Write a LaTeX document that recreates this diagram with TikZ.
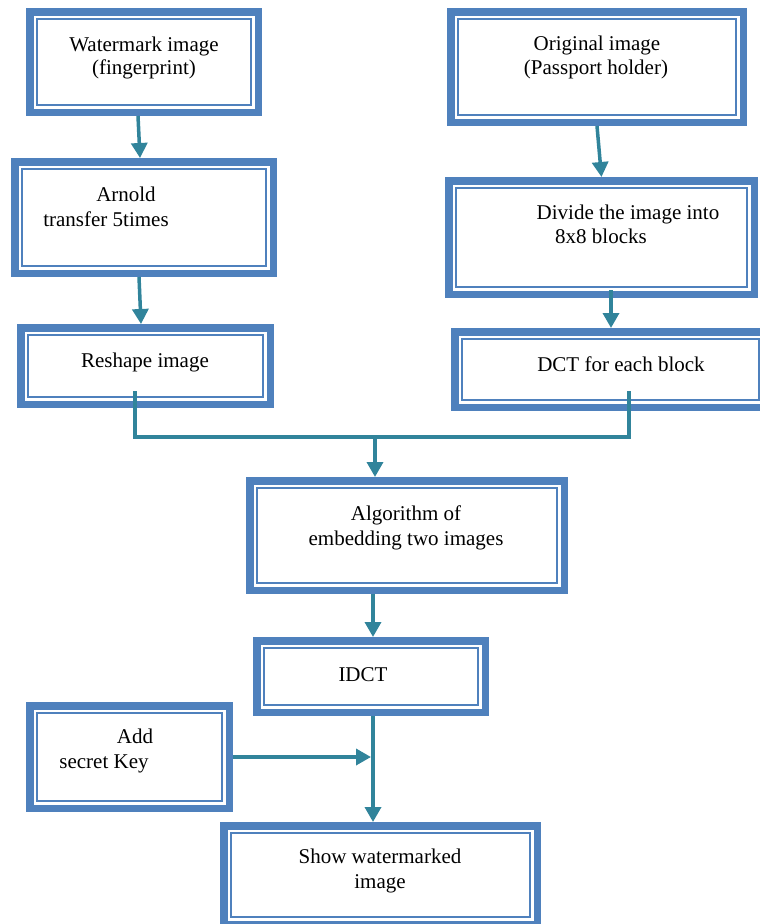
\documentclass[tikz,border=0pt]{standalone}
\usepackage{fontspec}
\setmainfont{Liberation Serif}
\usetikzlibrary{arrows.meta}
\definecolor{boxblue}{HTML}{4F81BD}
\definecolor{arrteal}{HTML}{31849B}
\newcommand\dbox[5]{%
  \node[box, minimum width={#4pt-#2pt-7.5pt}, minimum height={#5pt-#3pt-7.5pt}] (#1) at ({(#2+#4)/2},{(#3+#5)/2}) {};
  \draw[innerline] ([xshift=11pt,yshift=-11pt]#1.north west) rectangle ([xshift=-11pt,yshift=11pt]#1.south east);}
\begin{document}
\begin{tikzpicture}[x=1pt,y=-1pt,
  box/.style={draw=boxblue, line width=7.5pt, fill=white, inner sep=0pt},
  innerline/.style={draw=boxblue, line width=2pt},
  conn/.style={draw=arrteal, line width=3.5pt},
  arr/.style={conn, -{Triangle[width=16pt,length=15pt]}},
  txt/.style={anchor=base, inner sep=0pt, font=\fontsize{21}{25}\selectfont}]
\useasboundingbox (0,0) rectangle (760,924);
% boxes
\dbox{wm}{26}{8}{262}{116}
\dbox{orig}{447}{8}{747}{126}
\dbox{arn}{11}{158}{277}{277}
\dbox{div}{445}{177}{758}{298}
\dbox{res}{17}{324}{274}{408}
\dbox{dct}{451}{328}{770}{411}
\dbox{alg}{246}{477}{568}{594}
\dbox{idct}{253}{637}{489}{716}
\dbox{key}{26}{702}{233}{812}
\dbox{show}{220}{822}{541}{928}
% texts
\node[txt] (wm1) at (144,51) {Watermark image};
\node[txt] (wm2) at (144,74) {(fingerprint)};
\node[txt] (or1) at (597,50) {Original image};
\node[txt] (or2) at (596,74) {(Passport holder)};
\node[txt] (ar1) at (126,201) {Arnold};
\node[txt] (ar2) at (106,226) {transfer 5times};
\node[txt] (dv1) at (628,219) {Divide the image into};
\node[txt] (dv2) at (601,243) {8x8 blocks};
\node[txt] (rs1) at (145,367) {Reshape image};
\node[txt] (dc1) at (621,371) {DCT for each block};
\node[txt] (al1) at (406,520) {Algorithm of};
\node[txt] (al2) at (406,545) {embedding two images};
\node[txt] (id1) at (363,681) {IDCT};
\node[txt] (ky1) at (135,743) {Add};
\node[txt] (ky2) at (104,768) {secret Key};
\node[txt] (sh1) at (380,863) {Show watermarked};
\node[txt] (sh2) at (380,888) {image};
% connectors
\draw[arr] ([xshift=-6pt]wm.south) -- ([xshift=-4pt]arn.north);
\draw[arr] (orig.south) -- (div.north);
\draw[arr] ([xshift=-5pt]arn.south) -- ([xshift=-4.5pt]res.north);
\draw[arr] ([xshift=9.5pt,yshift=8pt]div.south) -- ([xshift=0.5pt]dct.north);
\coordinate (jl) at (135,437);
\coordinate (jr) at (629,437);
\coordinate (j) at (375,437);
\draw[conn] ([xshift=-10.5pt,yshift=17pt]res.south) -- (jl) -- (jr) -- ([xshift=18.5pt,yshift=20pt]dct.south);
\draw[arr] (j) -- (j |- alg.north);
\coordinate (a) at (373,594);
\draw[arr] (a) -- (a |- idct.north);
\coordinate (k) at (373,757);
\draw[conn] (k |- idct.south) -- (k);
\draw[arr] (k) -- (k |- show.north);
\draw[arr] (key.east |- k) -- ([xshift=-2pt]k);
\end{tikzpicture}
\end{document}
